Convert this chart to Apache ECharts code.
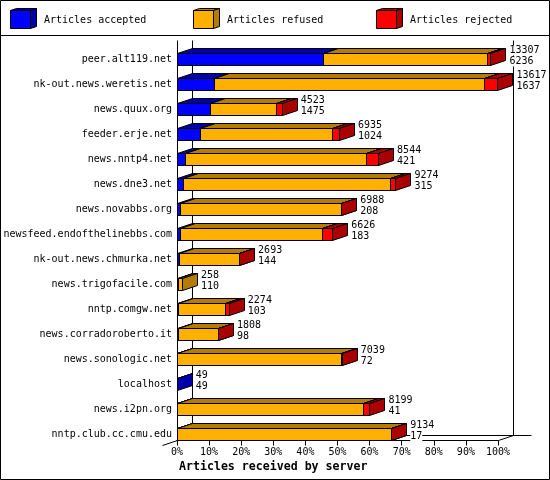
<!DOCTYPE html>
<html><head><meta charset="utf-8">
<style>html,body{margin:0;padding:0;background:#fff}#c{width:550px;height:480px}</style>
<script src="https://cdn.jsdelivr.net/npm/echarts@6/dist/echarts.min.js"></script>
</head><body><div id="c"></div>
<script>
const categories = ['peer.alt119.net','nk-out.news.weretis.net','news.quux.org','feeder.erje.net','news.nntp4.net','news.dne3.net','news.novabbs.org','newsfeed.endofthelinebbs.com','nk-out.news.chmurka.net','news.trigofacile.com','nntp.comgw.net','news.corradoroberto.it','news.sonologic.net','localhost','news.i2pn.org','nntp.club.cc.cmu.edu'];
const accepted = [45.6,11.6,10.5,7.4,2.7,2.1,1.2,1.2,0.8,0.5,0.6,0.6,0.2,0.1,0.1,0.1];
const refused  = [51.1,84.1,20.4,41.1,56.4,64.5,50.0,44.2,18.6,1.2,14.6,12.2,51.2,0,57.9,66.7];
const rejected = [1.1,4.3,1.9,2.1,3.7,1.6,0.1,3.1,0.1,0,1.1,0.1,0.1,0,2.1,0.1];
const offeredLabels = ['13307','13617','4523','6935','8544','9274','6988','6626','2693','258','2274','1808','7039','49','8199','9134'];
const receivedLabels = ['6236','1637','1475','1024','421','315','208','183','144','110','103','98','72','49','41','17'];
const tickLabels = ['0%','10%','20%','30%','40%','50%','60%','70%','80%','90%','100%'];
const seriesNames = ['Articles accepted','Articles refused','Articles rejected'];
const frontColors = ['#0000ff','#ffb000','#ff0000'];
const sideColors = ['#0000aa','#b37d05','#aa0000'];

const FONT = '"DejaVu Sans Mono","Liberation Mono",monospace';
const DX = 15, DY = 5, BAR_H = 12;
const snap = v => Math.round(v - 0.5) + 0.5;
const line = {stroke:'#000', lineWidth:1};

function poly(points, fill, z2){
  return {type:'polygon', shape:{points}, z2:z2, style:{fill, stroke:'#000', lineWidth:1}};
}
function seg(x0,x1,yc,idx,z){
  const t = snap(yc - BAR_H/2), b = t + BAR_H;
  const fill = frontColors[idx], dark = sideColors[idx];
  return [
    poly([[x0,t],[x0+DX,t-DY],[x1+DX,t-DY],[x1,t]], dark, z),
    poly([[x1,t],[x1+DX,t-DY],[x1+DX,b-DY],[x1,b]], dark, z+1),
    poly([[x0,t],[x1,t],[x1,b],[x0,b]], fill, z+2)
  ];
}
const rows = categories.map((c,i)=>[i,accepted[i],refused[i],rejected[i]]);

function renderBar(params, api){
  const i = api.value(0);
  const vals = [api.value(1),api.value(2),api.value(3)];
  const yc = api.coord([0,i])[1];
  let acc = 0, kids = [], z = 10;
  vals.forEach((v,k)=>{
    if(v<=0) return;
    const x0 = snap(api.coord([acc,i])[0]);
    const x1 = snap(api.coord([acc+v,i])[0]);
    kids = kids.concat(seg(x0,x1,yc,k,z));
    acc += v; z += 3;
  });
  return {type:'group', children:kids};
}
function renderValue(params, api){
  const i = api.value(0);
  const total = api.value(1)+api.value(2)+api.value(3);
  const p = api.coord([total,i]);
  return {type:'group', children:[offeredLabels[i],receivedLabels[i]].map((txt,k)=>({
    type:'text', x:p[0]+DX+3.5, y:p[1]-9+k*11,
    style:{text:txt, font:'10px '+FONT, fill:'#000', textVerticalAlign:'middle', backgroundColor:'#fff'}
  }))};
}
function renderWalls(params, api){
  const left = snap(api.coord([0,0])[0]), right = snap(api.coord([100,0])[0]);
  const floor = snap(api.coord([0,categories.length-1])[1] + BAR_H/2);
  const top = 40.5;
  const L = (a,b,c,d)=>({type:'line', shape:{x1:a,y1:b,x2:c,y2:d}, style:line});
  return {type:'group', children:[
    L(left+DX,top,left+DX,floor-DY),
    L(right+DX,top,right+DX,floor-DY),
    L(left+DX,floor-DY,right+DX+18,floor-DY),
    L(left,floor,left-DX,floor+DY),
    L(right,floor,right+DX,floor-DY),
    L(left,top,left,floor)
  ]};
}

const legendX = [10.5,193.5,376.5], legendTextX = [44,227,410];
const legendGraphics = [];
seriesNames.forEach((n,i)=>{
  const x=legendX[i], y=10.5, w=20, h=18, dx=6, dy=2;
  legendGraphics.push(
    {type:'polygon',shape:{points:[[x,y],[x+dx,y-dy],[x+w+dx,y-dy],[x+w,y]]},style:{fill:sideColors[i],stroke:'#000',lineWidth:1}},
    {type:'polygon',shape:{points:[[x+w,y],[x+w+dx,y-dy],[x+w+dx,y+h-dy],[x+w,y+h]]},style:{fill:sideColors[i],stroke:'#000',lineWidth:1}},
    {type:'rect',shape:{x,y,width:w,height:h},style:{fill:frontColors[i],stroke:'#000',lineWidth:1}},
    {type:'text',x:legendTextX[i],y:20.5,style:{text:n,font:'10px '+FONT,fill:'#000',textVerticalAlign:'middle'}}
  );
});

const chart = echarts.init(document.getElementById('c'),null,{renderer:'canvas',width:550,height:480});
chart.setOption({
  animation:false,
  backgroundColor:'#fff',
  grid:{left:177,top:47,width:321,height:400,containLabel:false},
  xAxis:{type:'value',min:0,max:100,interval:10,offset:-6.5,
    axisLine:{show:true,lineStyle:{color:'#000',width:1}},
    axisTick:{show:true,length:5,lineStyle:{color:'#000'}},
    splitLine:{show:false},
    axisLabel:{margin:7,color:'#000',fontSize:10,fontFamily:FONT,hideOverlap:false,showMinLabel:true,showMaxLabel:true,
      formatter:(v)=>tickLabels[Math.round(v/10)]}},
  yAxis:{type:'category',data:categories,inverse:true,
    axisLine:{show:false},axisTick:{show:false},splitLine:{show:false},
    axisLabel:{margin:5,interval:0,color:'#000',fontSize:10,fontFamily:FONT,padding:[2,0,0,0]}},
  graphic:[
    {type:'rect',shape:{x:0.5,y:0.5,width:549,height:479},style:{fill:'none',stroke:'#000',lineWidth:1},z:1},
    {type:'line',shape:{x1:0,y1:35.5,x2:550,y2:35.5},style:line,z:1},
    {type:'text',x:179,y:467,style:{text:'Articles received by server',font:'bold 11.6px '+FONT,fill:'#000',textVerticalAlign:'middle'},z:1},
    ...legendGraphics
  ],
  series:[
    {type:'custom',name:'walls',coordinateSystem:'cartesian2d',data:[[0,0]],encode:{x:0,y:1},renderItem:renderWalls,z:1,silent:true},
    {type:'custom',name:'bars',coordinateSystem:'cartesian2d',data:rows,renderItem:renderBar,encode:{y:0,x:[1,2,3]},z:3,silent:true,clip:false},
    {type:'custom',name:'values',coordinateSystem:'cartesian2d',data:rows,renderItem:renderValue,encode:{y:0,x:[1,2,3]},z:5,silent:true,clip:false}
  ]
});
</script></body></html>
